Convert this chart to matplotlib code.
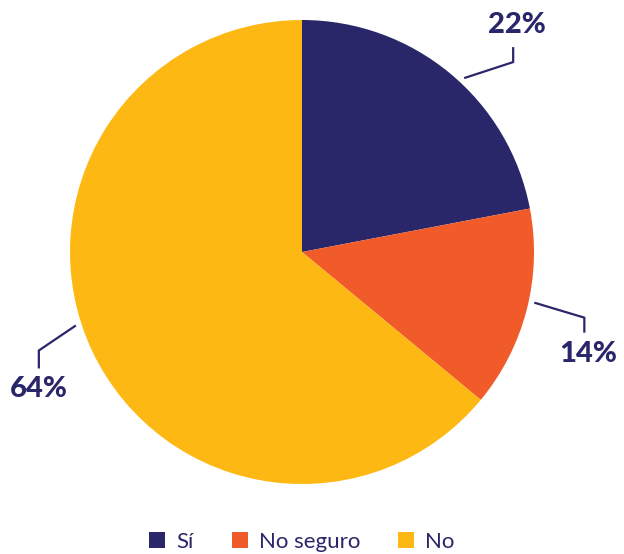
import numpy as np
import matplotlib
matplotlib.use("Agg")
import matplotlib.pyplot as plt
from matplotlib.patches import Patch

labels = ["Sí", "No seguro", "No"]
values = [22, 14, 64]
colors = ["#29266a", "#f15a29", "#fdb813"]
navy = "#29266a"

W, H = 624, 554
fig = plt.figure(figsize=(W / 100, H / 100), dpi=100)
ax = fig.add_axes([0, 0, 1, 1])

cx, cy, R = 302, H - 252, 232
wedges, _ = ax.pie(values, colors=colors, startangle=90, counterclock=False,
                   center=(cx, cy), radius=R, wedgeprops=dict(linewidth=0))
ax.set_xlim(0, W)
ax.set_ylim(0, H)
ax.set_aspect("equal")
ax.axis("off")

# leader lines: (angle offset, elbow dx, elbow dy, vertical len, label dy)
leader = [
    (-3.4, 49, 16, 15, 22),
    (2.1, 50, -15, -15, -21),
    (-7.2, -37, -25, -18, -21),
]
for w, v, (da, ex, ey, vl, ly) in zip(wedges, values, leader):
    mid = np.deg2rad((w.theta1 + w.theta2) / 2 + da)
    x0 = cx + R * 1.025 * np.cos(mid)
    y0 = cy + R * 1.025 * np.sin(mid)
    x1, y1 = x0 + ex, y0 + ey
    x2, y2 = x1, y1 + vl
    ax.plot([x0, x1, x2], [y0, y1, y2], color=navy, lw=1.6, solid_capstyle="butt")
    ax.text(x2 + (4 if ex > 0 else 0), y2 + ly, f"{v}%", ha="center", va="center",
            fontsize=21, fontweight=900, color=navy, family="Lato")

handles = [Patch(facecolor=c, edgecolor="none") for c in colors]
leg = fig.legend(handles, labels, loc="center", bbox_to_anchor=(302 / W, 1 - 542 / H),
                 ncol=3, frameon=False, handlelength=0.72, handleheight=0.72,
                 handletextpad=0.5, columnspacing=1.7, prop=dict(family="Lato", size=16))
for t in leg.get_texts():
    t.set_color(navy)

fig.savefig("out.png", dpi=100)
